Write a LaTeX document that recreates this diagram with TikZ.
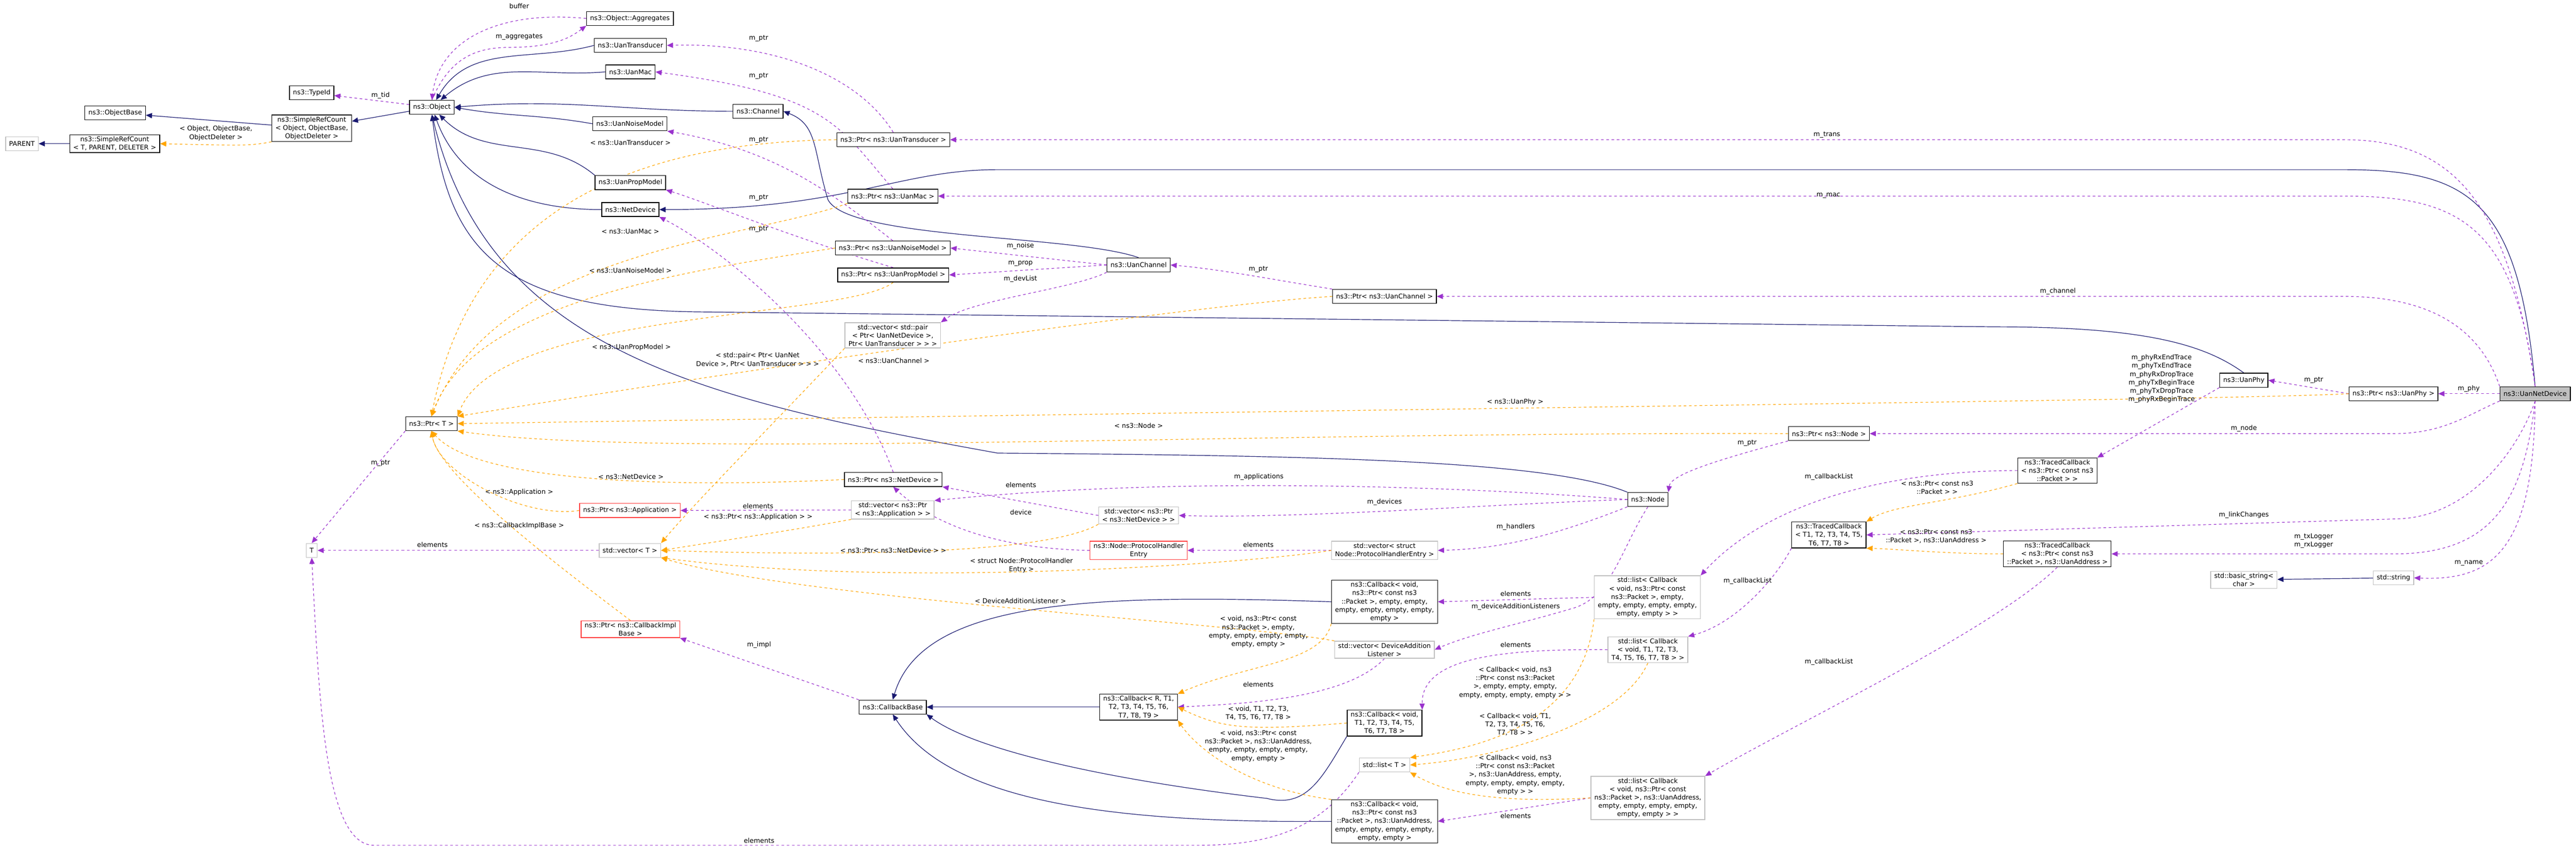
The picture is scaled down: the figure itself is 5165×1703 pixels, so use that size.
\documentclass[tikz,border=0pt]{standalone}
\usepackage{fontspec}
\setmainfont{DejaVu Sans}
\usetikzlibrary{arrows.meta,positioning,backgrounds}
\definecolor{inhblue}{RGB}{25,25,112}
\definecolor{usepurple}{RGB}{154,50,205}
\definecolor{tplorange}{RGB}{255,165,0}
\definecolor{boxgray}{RGB}{191,191,191}
\definecolor{boxred}{RGB}{255,60,60}
\tikzset{cls/.style={draw=black, thick, fill=white, align=center, inner xsep=4pt, inner ysep=2pt, minimum height=0.56cm, font=\fontsize{7.5}{9.5}\selectfont},
  clsg/.style={cls, draw=boxgray},
  clsr/.style={cls, draw=boxred},
  lbl/.style={align=center, inner sep=1pt, font=\fontsize{7.5}{9.5}\selectfont},
  inh/.style={draw=inhblue, line width=0.7pt, -{Triangle[length=7pt,width=6pt]}},
  use/.style={draw=usepurple, line width=0.7pt, dashed, -{Triangle[length=7pt,width=6pt]}},
  tpl/.style={draw=tplorange, line width=0.7pt, dashed, -{Triangle[length=7pt,width=6pt]}}}
\begin{document}
\begin{tikzpicture}[x=0.02cm,y=-0.02cm]
\useasboundingbox (0,0) rectangle (5165,1703);
% classes on the left
\node[clsg] (parent) at (44,288) {PARENT};
\node[cls] (srct) at (230,288) {ns3::SimpleRefCount\\< T, PARENT, DELETER >};
\node[cls] (objbase) at (231,226) {ns3::ObjectBase};
\node[cls] (srcobj) at (625,257) {ns3::SimpleRefCount\\< Object, ObjectBase,\\ObjectDeleter >};
\node[cls] (typeid) at (625,186) {ns3::TypeId};
\node[cls] (object) at (866,215) {ns3::Object};
\node[cls] (aggr) at (1263,37) {ns3::Object::Aggregates};
\node[cls] (uantrans) at (1264,91) {ns3::UanTransducer};
\node[cls] (uanmac) at (1264,144) {ns3::UanMac};
\node[cls] (channel) at (1520,223) {ns3::Channel};
\node[cls] (uannoise) at (1263,248) {ns3::UanNoiseModel};
\node[cls] (uanprop) at (1264,366) {ns3::UanPropModel};
\node[cls] (netdev) at (1264,420) {ns3::NetDevice};
\node[cls] (ptrt) at (865,849) {ns3::Ptr< T >};
\node[clsg] (t) at (625,1103) {T};
\node[clsg] (vectort) at (1263,1103) {std::vector< T >};
\node[clsr] (ptrapp) at (1263,1023) {ns3::Ptr< ns3::Application >};
\node[clsr] (ptrimpl) at (1264,1261) {ns3::Ptr< ns3::CallbackImpl\\Base >};
% pointers and containers
\node[cls] (ptrtrans) at (1791,280) {ns3::Ptr< ns3::UanTransducer >};
\node[cls] (ptrmac) at (1790,393) {ns3::Ptr< ns3::UanMac >};
\node[cls] (ptrnoise) at (1790,497) {ns3::Ptr< ns3::UanNoiseModel >};
\node[cls] (ptrprop) at (1791,551) {ns3::Ptr< ns3::UanPropModel >};
\node[clsg] (vecpair) at (1790,672) {std::vector< std::pair\\< Ptr< UanNetDevice >,\\Ptr< UanTransducer > > >};
\node[cls] (ptrnetdev) at (1791,961) {ns3::Ptr< ns3::NetDevice >};
\node[clsg] (vecapp) at (1790,1022) {std::vector< ns3::Ptr\\< ns3::Application > >};
\node[cls] (cbbase) at (1790,1417) {ns3::CallbackBase};
\node[cls] (uanchannel) at (2283,531) {ns3::UanChannel};
\node[clsg] (vecnetdev) at (2283,1033) {std::vector< ns3::Ptr\\< ns3::NetDevice > >};
\node[clsr] (protent) at (2283,1103) {ns3::Node::ProtocolHandler\\Entry};
\node[cls] (cbrt) at (2283,1417) {ns3::Callback< R, T1,\\T2, T3, T4, T5, T6,\\T7, T8, T9 >};
\node[cls] (ptrchannel) at (2776,594) {ns3::Ptr< ns3::UanChannel >};
\node[clsg] (vecprot) at (2776,1103) {std::vector< struct\\Node::ProtocolHandlerEntry >};
\node[cls] (cbpacket) at (2776,1206) {ns3::Callback< void,\\ns3::Ptr< const ns3\\::Packet >, empty, empty,\\empty, empty, empty, empty,\\empty >};
\node[clsg] (vecdev) at (2776,1302) {std::vector< DeviceAddition\\Listener >};
\node[cls] (cbt) at (2776,1449) {ns3::Callback< void,\\T1, T2, T3, T4, T5,\\T6, T7, T8 >};
\node[clsg] (listt) at (2776,1533) {std::list< T >};
\node[cls] (cbaddr) at (2776,1646) {ns3::Callback< void,\\ns3::Ptr< const ns3\\::Packet >, ns3::UanAddress,\\empty, empty, empty, empty,\\empty, empty >};
\node[cls] (node) at (3304,1001) {ns3::Node};
\node[clsg] (listcbpacket) at (3303,1197) {std::list< Callback\\< void, ns3::Ptr< const\\ns3::Packet >, empty,\\empty, empty, empty, empty,\\empty, empty > >};
\node[clsg] (listcbt) at (3304,1302) {std::list< Callback\\< void, T1, T2, T3,\\T4, T5, T6, T7, T8 > >};
\node[clsg] (listcbaddr) at (3304,1599) {std::list< Callback\\< void, ns3::Ptr< const\\ns3::Packet >, ns3::UanAddress,\\empty, empty, empty, empty,\\empty, empty > >};
\node[cls] (ptrnode) at (3667,869) {ns3::Ptr< ns3::Node >};
\node[cls] (tcbt) at (3667,1072) {ns3::TracedCallback\\< T1, T2, T3, T4, T5,\\T6, T7, T8 >};
\node[cls] (tcbpacket) at (4125,943) {ns3::TracedCallback\\< ns3::Ptr< const ns3\\::Packet > >};
\node[cls] (tcbaddr) at (4125,1110) {ns3::TracedCallback\\< ns3::Ptr< const ns3\\::Packet >, ns3::UanAddress >};
\node[cls] (uanphy) at (4499,762) {ns3::UanPhy};
\node[clsg] (basicstr) at (4499,1162) {std::basic\_string<\\char >};
\node[cls] (ptrphy) at (4799,789) {ns3::Ptr< ns3::UanPhy >};
\node[clsg] (string) at (4799,1158) {std::string};
\node[cls, fill=boxgray] (und) at (5083,789) {ns3::UanNetDevice};

\begin{pgfonlayer}{background}
% inheritance
\draw[inh] (srct) -- (parent);
\draw[inh] (srcobj) -- (objbase);
\draw[inh] (object) -- (srcobj);
\draw[inh] (uantrans.west) to[out=195,in=60] (object);
\draw[inh] (uanmac.west) to[out=185,in=40] (object);
\draw[inh] (channel.west) to[out=180,in=5] (object.east);
\draw[inh] (uannoise.west) to[out=170,in=-10] (object.east);
\draw[inh] (uanprop.north west) to[out=140,in=-45] (object);
\draw[inh] (netdev.west) to[out=180,in=-70] (object);
\draw[inh] (uanchannel.north) .. controls (2150,470) and (1700,480) .. (1660,400) .. controls (1630,300) and (1640,250) .. (channel.east);
\draw[inh] (und.north) .. controls (5050,400) and (4950,340) .. (4700,340) -- (2000,340) .. controls (1800,340) and (1700,420) .. (netdev.east);
\draw[inh] (uanphy.north) .. controls (4420,690) and (4300,655) .. (4000,655) -- (1400,625) .. controls (1000,620) and (900,500) .. (object.south);
\draw[inh] (node.north west) .. controls (3100,920) and (2600,913) .. (2000,908) .. controls (1400,800) and (980,700) .. (object.south);
\draw[inh] (cbpacket.west) .. controls (2200,1190) and (1850,1200) .. (cbbase.north);
\draw[inh] (cbrt) -- (cbbase);
\draw[inh] (cbt.south west) .. controls (2650,1560) and (2620,1620) .. (2540,1600) .. controls (2200,1560) and (1950,1500) .. (cbbase.south east);
\draw[inh] (cbaddr.west) .. controls (2200,1650) and (1900,1600) .. (cbbase.south);
\draw[inh] (string) -- (basicstr);

% members
\draw[use] (aggr.west) .. controls (1000,20) and (880,80) .. (object.north);
\draw[use] (object.north) .. controls (900,120) and (950,95) .. (1020,95) .. controls (1120,95) and (1150,70) .. (aggr.south west);
\draw[use] (object) -- (typeid);
\draw[use] (ptrtrans.north) .. controls (1720,150) and (1550,85) .. (uantrans.east);
\draw[use] (ptrmac.north) .. controls (1680,250) and (1660,190) .. (uanmac.east);
\draw[use] (ptrnoise.north) .. controls (1660,380) and (1550,300) .. (uannoise.south east);
\draw[use] (ptrprop.north) .. controls (1600,480) and (1400,400) .. (uanprop.south east);
\draw[use] (ptrnetdev.north) .. controls (1700,700) and (1450,500) .. (netdev.south east);
\draw[use] (ptrchannel.north west) .. controls (2550,560) and (2450,540) .. (uanchannel.east);
\draw[use] (uanchannel.west) -- (ptrnoise.east);
\draw[use] (uanchannel.west) -- (ptrprop.east);
\draw[use] (uanchannel.south west) .. controls (2150,580) and (1950,600) .. (vecpair.north east);
\draw[use] (und.north) .. controls (5030,420) and (4930,280) .. (4700,280) -- (ptrtrans.east);
\draw[use] (und.north) .. controls (5040,450) and (4930,393) .. (4700,393) -- (ptrmac.east);
\draw[use] (und.north west) .. controls (4980,680) and (4900,594) .. (4700,594) -- (ptrchannel.east);
\draw[use] (und) -- (ptrphy);
\draw[use] (ptrphy.west) -- (uanphy.east);
\draw[use] (und.south west) .. controls (4950,830) and (4900,869) .. (4800,869) -- (ptrnode.east);
\draw[use] (ptrnode.south west) .. controls (3450,920) and (3350,950) .. (node.north east);
\draw[use] (node.west) .. controls (3000,980) and (2400,950) .. (vecapp.north east);
\draw[use] (node.west) .. controls (3000,1010) and (2600,1040) .. (vecnetdev.east);
\draw[use] (node.south west) .. controls (3100,1080) and (3000,1100) .. (vecprot.east);
\draw[use] (node.south) .. controls (3250,1100) and (3230,1200) .. (3150,1220) .. controls (3050,1250) and (2950,1270) .. (vecdev.east);
\draw[use] (vecnetdev.west) -- (ptrnetdev.south east);
\draw[use] (vecapp.west) -- (ptrapp.east);
\draw[use] (vecprot) -- (protent);
\draw[use] (protent.west) .. controls (2000,1100) and (1870,1050) .. (ptrnetdev.south);
\draw[use] (vecdev.south) .. controls (2700,1400) and (2500,1410) .. (cbrt.east);
\draw[use] (listcbpacket.west) -- (cbpacket.east);
\draw[use] (listcbt.west) .. controls (3000,1300) and (2850,1320) .. (cbt.north east);
\draw[use] (listcbaddr.west) -- (cbaddr.east);
\draw[use] (tcbpacket.west) .. controls (3800,943) and (3550,1000) .. (listcbpacket.north east);
\draw[use] (tcbt.south west) .. controls (3560,1160) and (3480,1250) .. (listcbt.north east);
\draw[use] (tcbaddr.south) .. controls (4000,1260) and (3600,1450) .. (listcbaddr.north east);
\draw[use] (uanphy.south west) -- (tcbpacket.north east);
\draw[use] (und.south) .. controls (5050,900) and (4950,1040) .. (4800,1040) -- (tcbt.east);
\draw[use] (und.south) .. controls (5060,1000) and (5000,1110) .. (4800,1110) -- (tcbaddr.east);
\draw[use] (und.south) .. controls (5080,1100) and (5000,1165) .. (string.east);
\draw[use] (ptrt.south west) -- (t.north);
\draw[use] (vectort) -- (t);
\draw[use] (listt.south west) .. controls (2650,1660) and (2550,1694) .. (2400,1694) -- (750,1694) .. controls (650,1694) and (640,1400) .. (t.south);
\draw[use] (cbbase.north west) -- (ptrimpl.south east);

% templates
\draw[tpl] (srcobj.south west) .. controls (500,292) .. (srct.east);
\draw[tpl] (ptrtrans.west) .. controls (1300,285) and (950,400) .. (ptrt.north);
\draw[tpl] (ptrmac.south west) .. controls (1500,480) and (1000,500) .. (ptrt.north);
\draw[tpl] (ptrnoise.west) .. controls (1400,540) and (950,600) .. (ptrt.north);
\draw[tpl] (ptrprop.south) .. controls (1700,640) and (1000,620) .. (ptrt.north east);
\draw[tpl] (ptrchannel.west) .. controls (2400,610) and (1500,740) .. (ptrt.north east);
\draw[tpl] (ptrphy.west) .. controls (4500,800) and (3500,810) .. (ptrt.east);
\draw[tpl] (ptrnode.west) .. controls (2500,865) and (1300,920) .. (ptrt.south east);
\draw[tpl] (ptrnetdev.west) .. controls (1300,980) and (950,960) .. (ptrt.south);
\draw[tpl] (ptrapp.west) .. controls (1050,1040) and (880,950) .. (ptrt.south);
\draw[tpl] (ptrimpl.north) .. controls (1100,1120) and (880,950) .. (ptrt.south);
\draw[tpl] (vecpair.south west) .. controls (1550,850) and (1400,1000) .. (vectort.north east);
\draw[tpl] (vecapp.south west) .. controls (1600,1060) .. (vectort.east);
\draw[tpl] (vecnetdev.south west) .. controls (2100,1110) and (1700,1115) .. (vectort.east);
\draw[tpl] (vecprot.west) .. controls (2500,1130) and (1800,1180) .. (vectort.south east);
\draw[tpl] (vecdev.north west) .. controls (2500,1250) and (1600,1200) .. (vectort.south east);
\draw[tpl] (cbpacket.south west) .. controls (2650,1330) and (2500,1330) .. (cbrt.north east);
\draw[tpl] (cbt.west) .. controls (2500,1465) and (2450,1460) .. (cbrt.east);
\draw[tpl] (cbaddr.north west) .. controls (2500,1580) and (2400,1500) .. (cbrt.south east);
\draw[tpl] (listcbpacket.south west) .. controls (3170,1460) and (2950,1500) .. (listt.north east);
\draw[tpl] (listcbt.south) .. controls (3250,1450) and (3000,1520) .. (listt.east);
\draw[tpl] (listcbaddr.west) .. controls (3000,1610) and (2900,1590) .. (listt.south east);
\draw[tpl] (tcbpacket.south west) .. controls (3900,1010) and (3800,1010) .. (tcbt.north east);
\draw[tpl] (tcbaddr.west) .. controls (3900,1110) and (3800,1100) .. (tcbt.south east);
\end{pgfonlayer}

% labels
\node[lbl] (lbuffer) at (1041,12) {buffer};
\node[lbl] (laggr) at (1041,74) {m\_aggregates};
\node[lbl] (ltid) at (763,191) {m\_tid};
\node[lbl] (lsrc) at (433,267) {< Object, ObjectBase,\\ObjectDeleter >};
\node[lbl] (lp1) at (1521,77) {m\_ptr};
\node[lbl] (lp2) at (1521,152) {m\_ptr};
\node[lbl] (lp3) at (1521,280) {m\_ptr};
\node[lbl] (lp4) at (1521,396) {m\_ptr};
\node[lbl] (lp5) at (1521,459) {m\_ptr};
\node[lbl] (ltrans) at (1264,286) {< ns3::UanTransducer >};
\node[lbl] (lmac) at (1264,464) {< ns3::UanMac >};
\node[lbl] (lnoise) at (1264,542) {< ns3::UanNoiseModel >};
\node[lbl] (lprop) at (1266,696) {< ns3::UanPropModel >};
\node[lbl] (lpair) at (1519,721) {< std::pair< Ptr< UanNet\\Device >, Ptr< UanTransducer > > >};
\node[lbl] (lchan) at (1792,723) {< ns3::UanChannel >};
\node[lbl] (lmnoise) at (2046,493) {m\_noise};
\node[lbl] (lmprop) at (2046,528) {m\_prop};
\node[lbl] (ldevlist) at (2046,559) {m\_devList};
\node[lbl] (lp6) at (2523,540) {m\_ptr};
\node[lbl] (lmtrans) at (3663,270) {m\_trans};
\node[lbl] (lmmac) at (3666,392) {m\_mac};
\node[lbl] (lmchan) at (4126,584) {m\_channel};
\node[lbl] (ltraces) at (4334,759) {m\_phyRxEndTrace\\m\_phyTxEndTrace\\m\_phyRxDropTrace\\m\_phyTxBeginTrace\\m\_phyTxDropTrace\\m\_phyRxBeginTrace};
\node[lbl] (lp7) at (4639,762) {m\_ptr};
\node[lbl] (lmphy) at (4950,779) {m\_phy};
\node[lbl] (lphy) at (3038,806) {< ns3::UanPhy >};
\node[lbl] (lnodet) at (2283,853) {< ns3::Node >};
\node[lbl] (lmnode) at (4499,859) {m\_node};
\node[lbl] (lp8) at (3503,888) {m\_ptr};
\node[lbl] (lp9) at (763,928) {m\_ptr};
\node[lbl] (lnetdev) at (1265,955) {< ns3::NetDevice >};
\node[lbl] (lmapps) at (2524,956) {m\_applications};
\node[lbl] (lcbl1) at (3667,956) {m\_callbackList};
\node[lbl] (lel1) at (2047,972) {elements};
\node[lbl] (lpkt) at (3884,977) {< ns3::Ptr< const ns3\\::Packet > >};
\node[lbl] (lapp) at (1041,987) {< ns3::Application >};
\node[lbl] (lmdev) at (2776,1006) {m\_devices};
\node[lbl] (lel2) at (1520,1014) {elements};
\node[lbl] (ldevice) at (2047,1027) {device};
\node[lbl] (lmlink) at (4499,1032) {m\_linkChanges};
\node[lbl] (lptrapp) at (1520,1036) {< ns3::Ptr< ns3::Application > >};
\node[lbl] (limpl) at (1041,1054) {< ns3::CallbackImplBase >};
\node[lbl] (lmhand) at (3039,1056) {m\_handlers};
\node[lbl] (laddr) at (3882,1075) {< ns3::Ptr< const ns3\\::Packet >, ns3::UanAddress >};
\node[lbl] (llog) at (4639,1084) {m\_txLogger\\m\_rxLogger};
\node[lbl] (lel3) at (867,1092) {elements};
\node[lbl] (lel4) at (2523,1092) {elements};
\node[lbl] (lptrnd) at (1791,1103) {< ns3::Ptr< ns3::NetDevice > >};
\node[lbl] (lmname) at (4950,1128) {m\_name};
\node[lbl] (lprot) at (2048,1133) {< struct Node::ProtocolHandler\\Entry >};
\node[lbl] (lcbl2) at (3504,1164) {m\_callbackList};
\node[lbl] (lel5) at (3039,1190) {elements};
\node[lbl] (ldal) at (2046,1204) {< DeviceAdditionListener >};
\node[lbl] (ldaln) at (3039,1216) {m\_deviceAdditionListeners};
\node[lbl] (lvp) at (2523,1266) {< void, ns3::Ptr< const\\ns3::Packet >, empty,\\empty, empty, empty, empty,\\empty, empty >};
\node[lbl] (lmimpl) at (1522,1292) {m\_impl};
\node[lbl] (lel6) at (3039,1292) {elements};
\node[lbl] (lcbl3) at (3667,1327) {m\_callbackList};
\node[lbl] (lcblp) at (3038,1368) {< Callback< void, ns3\\::Ptr< const ns3::Packet\\>, empty, empty, empty,\\empty, empty, empty, empty > >};
\node[lbl] (lel7) at (2523,1372) {elements};
\node[lbl] (lvt) at (2523,1429) {< void, T1, T2, T3,\\T4, T5, T6, T7, T8 >};
\node[lbl] (lcblt) at (3038,1452) {< Callback< void, T1,\\T2, T3, T4, T5, T6,\\T7, T8 > >};
\node[lbl] (lva) at (2523,1495) {< void, ns3::Ptr< const\\ns3::Packet >, ns3::UanAddress,\\empty, empty, empty, empty,\\empty, empty >};
\node[lbl] (lcbla) at (3038,1553) {< Callback< void, ns3\\::Ptr< const ns3::Packet\\>, ns3::UanAddress, empty,\\empty, empty, empty, empty,\\empty > >};
\node[lbl] (lel8) at (3039,1635) {elements};
\node[lbl] (lel9) at (1522,1685) {elements};
\end{tikzpicture}
\end{document}
